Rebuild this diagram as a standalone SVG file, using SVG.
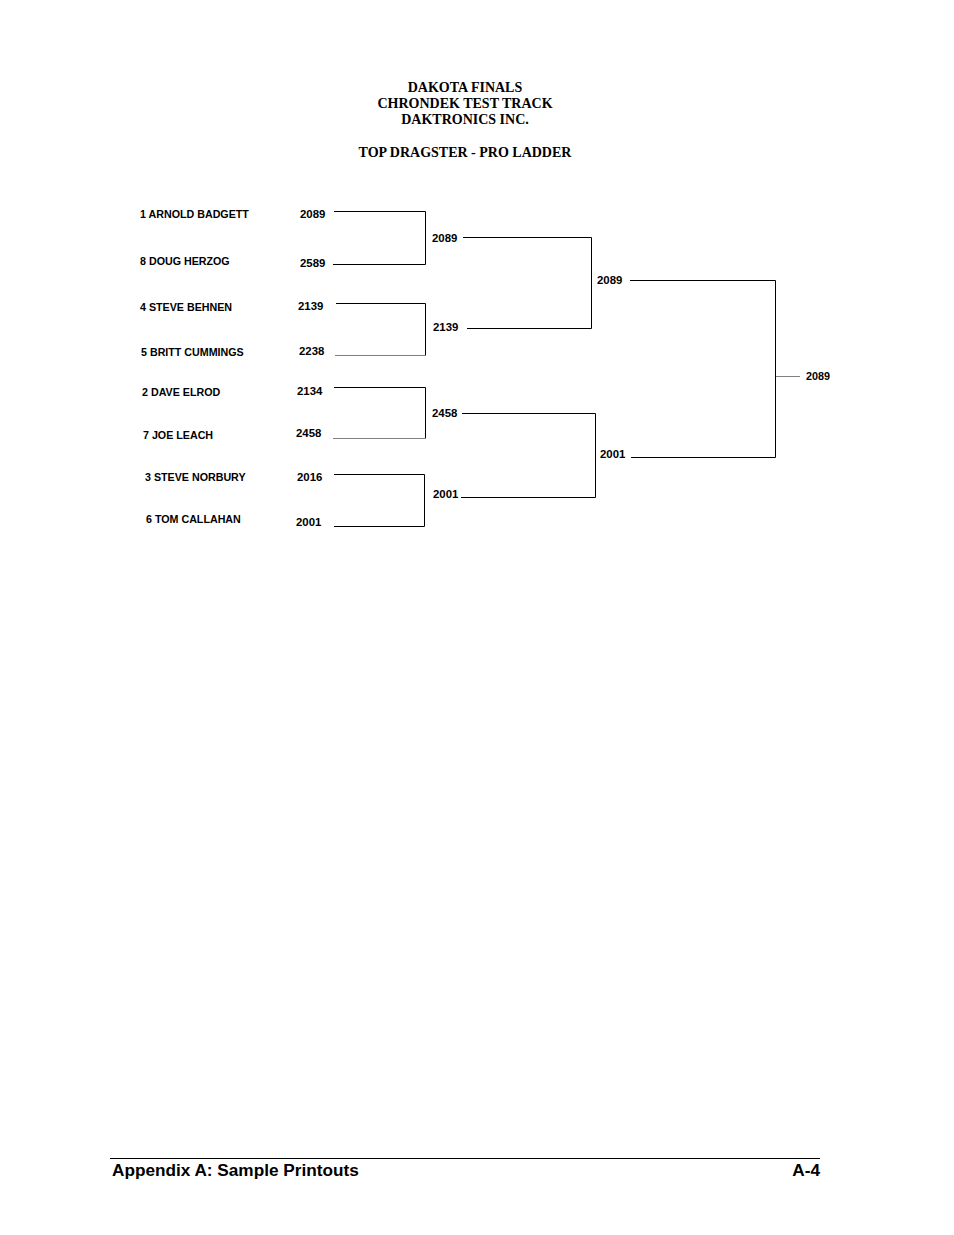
<svg xmlns="http://www.w3.org/2000/svg" width="954" height="1235" viewBox="0 0 954 1235">
<style>
.title{font-family:"Liberation Serif","Times New Roman",serif;font-weight:bold;font-size:14px;fill:#000;text-anchor:middle}
.name{font-family:"Liberation Sans",Arial,sans-serif;font-weight:bold;font-size:10.7px;fill:#000}
.num{font-family:"Liberation Sans",Arial,sans-serif;font-weight:bold;font-size:11.4px;fill:#000}
.foot{font-family:"Liberation Sans",Arial,sans-serif;font-weight:bold;font-size:17.2px;fill:#000}
.ln{fill:none;stroke:#000;stroke-width:1}
.lg{fill:none;stroke:#808080;stroke-width:1}
</style>
<rect width="954" height="1235" fill="#fff"/>
<g id="header">
<text class="title" x="465" y="92">DAKOTA FINALS</text>
<text class="title" x="465" y="108">CHRONDEK TEST TRACK</text>
<text class="title" x="465" y="124">DAKTRONICS INC.</text>
<text class="title" x="465" y="157">TOP DRAGSTER - PRO LADDER</text>
</g>
<g id="connectors">
<path class="ln" d="M334 211.5H425.5V264.5H333"/>
<path class="ln" d="M336 303.5H425.5V355.5"/>
<path class="lg" d="M335 355.5H425"/>
<path class="ln" d="M334 387.5H425.5V438.5"/>
<path class="lg" d="M333 438.5H425"/>
<path class="ln" d="M334 474.5H424.5V526.5H334"/>
<path class="ln" d="M463 237.5H591.5V328.5H467"/>
<path class="ln" d="M462 413.5H595.5V497.5H461"/>
<path class="ln" d="M630 280.5H775.5V457.5H631"/>
<path class="lg" d="M776 376.5H800"/>
</g>
<g id="entrant-1"><text class="name" x="140" y="218">1 ARNOLD BADGETT</text><text class="num" x="300" y="218">2089</text></g>
<g id="entrant-8"><text class="name" x="140" y="265">8 DOUG HERZOG</text><text class="num" x="300" y="267">2589</text></g>
<g id="entrant-4"><text class="name" x="140" y="311">4 STEVE BEHNEN</text><text class="num" x="298" y="310">2139</text></g>
<g id="entrant-5"><text class="name" x="141" y="356">5 BRITT CUMMINGS</text><text class="num" x="299" y="355">2238</text></g>
<g id="entrant-2"><text class="name" x="142" y="396">2 DAVE ELROD</text><text class="num" x="297" y="395">2134</text></g>
<g id="entrant-7"><text class="name" x="143" y="439">7 JOE LEACH</text><text class="num" x="296" y="437">2458</text></g>
<g id="entrant-3"><text class="name" x="145" y="481">3 STEVE NORBURY</text><text class="num" x="297" y="481">2016</text></g>
<g id="entrant-6"><text class="name" x="146" y="523">6 TOM CALLAHAN</text><text class="num" x="296" y="526">2001</text></g>
<g id="r2-1"><text class="num" x="432" y="242">2089</text></g>
<g id="r2-2"><text class="num" x="433" y="331">2139</text></g>
<g id="r2-3"><text class="num" x="432" y="417">2458</text></g>
<g id="r2-4"><text class="num" x="433" y="498">2001</text></g>
<g id="r3-1"><text class="num" x="597" y="284">2089</text></g>
<g id="r3-2"><text class="num" x="600" y="458">2001</text></g>
<g id="winner"><text class="num" x="806" y="380" style="font-size:10.8px">2089</text></g>
<g id="footer">
<path class="ln" d="M110 1158.5H820"/>
<text class="foot" x="112" y="1176">Appendix A: Sample Printouts</text>
<text class="foot" x="820" y="1176" text-anchor="end">A-4</text>
</g>
</svg>
